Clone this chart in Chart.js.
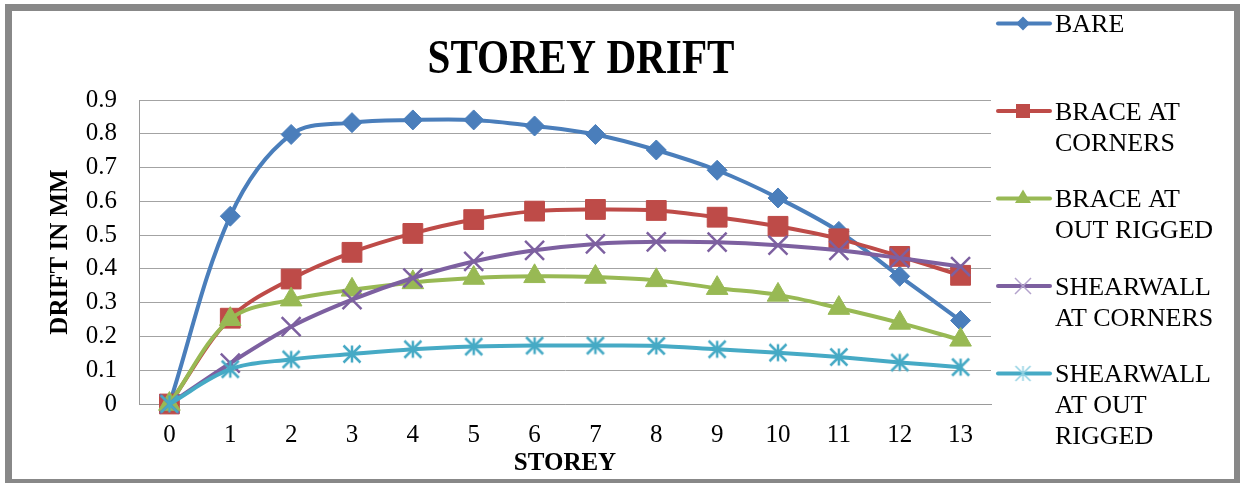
<!DOCTYPE html>
<html>
<head>
<meta charset="utf-8">
<title>Storey Drift</title>
<script src="https://cdn.jsdelivr.net/npm/chart.js@4.4.0/dist/chart.umd.min.js"></script>
<style>
  html, body { margin: 0; padding: 0; background: #fff; overflow: hidden; }
  #wrap { position: relative; width: 1240px; height: 483px; }
  #c { position: absolute; left: 0; top: 0; }
  #frame {
    position: absolute; left: 5px; top: 4px; width: 1236px; height: 482px;
    border: 7px solid #888; box-sizing: border-box; pointer-events: none;
  }
</style>
</head>
<body>
<div id="wrap">
  <canvas id="c" width="1240" height="483"></canvas>
  <div id="frame"></div>
</div>
<script>
// Storey numbers along the x axis
const storeys = ['0', '1', '2', '3', '4', '5', '6', '7', '8', '9', '10', '11', '12', '13'];

// Drift (mm) per storey for each structural system
const bare           = [0, 0.556, 0.798, 0.833, 0.841, 0.841, 0.823, 0.798, 0.752, 0.692, 0.610, 0.511, 0.378, 0.247];
const braceCorners   = [0, 0.254, 0.370, 0.449, 0.505, 0.546, 0.571, 0.576, 0.573, 0.553, 0.526, 0.489, 0.437, 0.381];
const braceOutrigged = [0, 0.251, 0.309, 0.338, 0.360, 0.373, 0.378, 0.376, 0.366, 0.343, 0.323, 0.284, 0.240, 0.190];
const shearCorners   = [0, 0.121, 0.229, 0.309, 0.373, 0.422, 0.455, 0.474, 0.480, 0.479, 0.470, 0.455, 0.432, 0.407];
const shearOutrigged = [0, 0.103, 0.132, 0.148, 0.162, 0.170, 0.173, 0.173, 0.172, 0.162, 0.152, 0.139, 0.123, 0.109];

// Y axis tick labels
const yTickLabels = ['0', '0.1', '0.2', '0.3', '0.4', '0.5', '0.6', '0.7', '0.8', '0.9'];

// Legend names, one entry per line
const seriesNames = [
  ['BARE'],
  ['BRACE AT', 'CORNERS'],
  ['BRACE AT', 'OUT RIGGED'],
  ['SHEARWALL', 'AT CORNERS'],
  ['SHEARWALL', 'AT OUT', 'RIGGED']
];

const SERIF = '"Liberation Serif", "Times New Roman", serif';
const colors = ['#4A7EBB', '#BE4B48', '#98B954', '#7D60A0', '#46AAC5'];

// asterisk marker: X plus a vertical stroke
function makeStar(half, color, lw) {
  const s = Math.ceil(2 * half + lw + 4);
  const c = document.createElement('canvas');
  c.width = s; c.height = s;
  const g = c.getContext('2d');
  const m = s / 2;
  g.strokeStyle = color; g.lineWidth = lw; g.lineCap = 'butt';
  g.beginPath();
  g.moveTo(m, m - half); g.lineTo(m, m + half);
  g.moveTo(m - half, m - half); g.lineTo(m + half, m + half);
  g.moveTo(m - half, m + half); g.lineTo(m + half, m - half);
  g.stroke();
  return c;
}
const starMarker = makeStar(8.5, colors[4], 2.5);
const starLegend = makeStar(7.5, '#8fd0e2', 1.5);

function seriesDataset(i, data, style, radius, bw, order) {
  return {
    label: seriesNames[i].join(' '),
    data: data,
    borderColor: colors[i],
    backgroundColor: colors[i],
    pointBackgroundColor: colors[i],
    pointBorderColor: colors[i],
    pointStyle: style,
    pointRadius: radius,
    pointBorderWidth: bw,
    borderWidth: 4,
    borderCapStyle: 'round',
    borderJoinStyle: 'round',
    tension: 0.35,
    order: order,
    clip: false
  };
}

// draws the chart heading and the legend at the right
const decor = {
  id: 'decor',
  afterDraw(chart) {
    const ctx = chart.ctx;
    ctx.save();
    ctx.fillStyle = '#000';
    ctx.font = 'bold 48px ' + SERIF;
    const w = ctx.measureText('STOREY DRIFT').width;
    ctx.translate(581, 72.5);
    ctx.scale(307 / w, 1);
    ctx.textAlign = 'center';
    ctx.textBaseline = 'alphabetic';
    ctx.fillText('STOREY DRIFT', 0, 0);
    ctx.restore();

    chart.data.datasets.forEach((ds, i) => {
      const y0 = 23.5 + i * 87.5;
      ctx.save();
      ctx.strokeStyle = colors[i];
      ctx.lineWidth = 4;
      ctx.lineCap = 'round';
      ctx.beginPath();
      ctx.moveTo(998, y0); ctx.lineTo(1050, y0);
      ctx.stroke();
      const mx = 1023;
      ctx.fillStyle = colors[i];
      ctx.beginPath();
      if (i === 0) {
        ctx.moveTo(mx - 7, y0); ctx.lineTo(mx, y0 - 7); ctx.lineTo(mx + 7, y0); ctx.lineTo(mx, y0 + 7);
        ctx.closePath(); ctx.fill();
      } else if (i === 1) {
        ctx.rect(mx - 7, y0 - 7, 14, 14); ctx.fill();
      } else if (i === 2) {
        ctx.moveTo(mx, y0 - 9); ctx.lineTo(mx + 8, y0 + 4.5); ctx.lineTo(mx - 8, y0 + 4.5);
        ctx.closePath(); ctx.fill();
      } else if (i === 3) {
        ctx.strokeStyle = '#b3a2cc'; ctx.lineWidth = 1.5; ctx.lineCap = 'butt';
        ctx.moveTo(mx - 8, y0 - 8); ctx.lineTo(mx + 8, y0 + 8);
        ctx.moveTo(mx - 8, y0 + 8); ctx.lineTo(mx + 8, y0 - 8);
        ctx.stroke();
      } else {
        ctx.drawImage(starLegend, mx - starLegend.width / 2, y0 - starLegend.height / 2);
      }
      ctx.fillStyle = '#000';
      ctx.font = '26px ' + SERIF;
      ctx.textAlign = 'left';
      ctx.textBaseline = 'alphabetic';
      seriesNames[i].forEach((t, k) => ctx.fillText(t, 1055, y0 + 8.5 + k * 31));
      ctx.restore();
    });
  }
};

new Chart(document.getElementById('c'), {
  type: 'line',
  data: {
    labels: storeys,
    datasets: [
      seriesDataset(0, bare, 'rectRot', 10, 1, 5),
      seriesDataset(1, braceCorners, 'rect', 14, 1, 4),
      seriesDataset(2, braceOutrigged, 'triangle', 12.5, 1, 3),
      seriesDataset(3, shearCorners, 'crossRot', 13.4, 2.5, 2),
      seriesDataset(4, shearOutrigged, starMarker, 9, 2.5, 1)
    ]
  },
  options: {
    responsive: false,
    animation: false,
    devicePixelRatio: 1,
    layout: { padding: { left: 0, top: 100, right: 249, bottom: 0 } },
    plugins: {
      legend: { display: false },
      title: { display: false },
      tooltip: { enabled: false }
    },
    scales: {
      x: {
        type: 'category',
        offset: true,
        grid: { display: false, drawTicks: false },
        border: { display: true, color: '#9a9a9a', width: 1 },
        ticks: {
          color: '#000', padding: 16, maxRotation: 0, autoSkip: false,
          font: { family: SERIF, size: 25 }
        },
        title: {
          display: true, text: 'STOREY', color: '#000',
          font: { family: SERIF, size: 25, weight: 'bold' },
          padding: { top: 0, bottom: 4 }
        },
        afterFit(scale) { scale.height = 79; }
      },
      y: {
        min: 0, max: 0.9,
        grid: { color: '#a3a3a3', lineWidth: 1, drawTicks: false },
        border: { display: true, color: '#9a9a9a', width: 1 },
        ticks: {
          stepSize: 0.1, padding: 22, color: '#000',
          font: { family: SERIF, size: 25 },
          callback: (v, i) => yTickLabels[i]
        },
        title: {
          display: true, text: 'DRIFT IN MM', color: '#000',
          font: { family: SERIF, size: 25, weight: 'bold' },
          padding: { top: 46, bottom: 0 }
        },
        afterFit(scale) { scale.width = 139; }
      }
    }
  },
  plugins: [decor]
});
</script>
</body>
</html>
